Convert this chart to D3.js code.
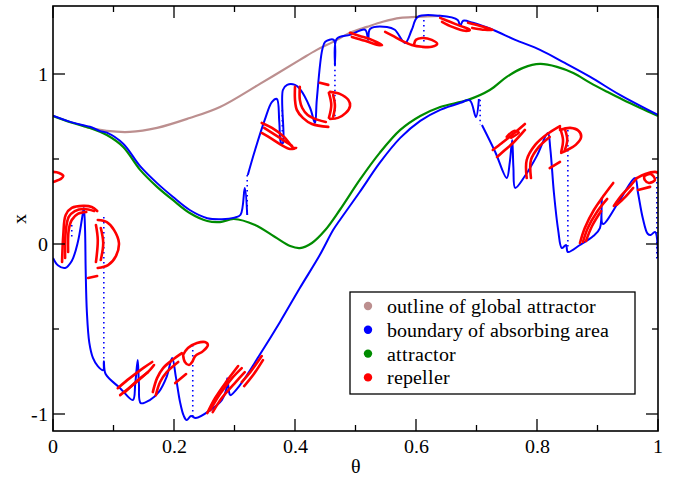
<!DOCTYPE html>
<html>
<head>
<meta charset="utf-8">
<script src="https://cdn.jsdelivr.net/npm/d3@7"></script>
<style>
  body { margin: 0; background: #fff; }
  @font-face { font-family: "SerifLocal"; src: local("Liberation Serif"), local("LiberationSerif"), local("LiberationSerif-Regular"), local("DejaVu Serif"), local("DejaVuSerif"); }
</style>
</head>
<body>
<svg id="chart"></svg>
<script>
// 画面サイズ
var w = 683;
var h = 479;
var margin = {top: 6, right: 25, bottom: 48, left: 53};
var serif = "SerifLocal, 'Liberation Serif', 'Times New Roman', 'DejaVu Serif', serif";

// tick labels
var xTicks = [0, 0.2, 0.4, 0.6, 0.8, 1];
var xTickLabels = ["0", "0.2", "0.4", "0.6", "0.8", "1"];
var yTicks = [-1, 0, 1];
var yTickLabels = ["-1", "0", "1"];

// legend
var legendNames = ["outline of global attractor", "boundary of absorbing area", "attractor", "repeller"];
var legendColors = ["#bc8f8f", "#0000ff", "#008c00", "#ff0000"];

// outline of global attractor [theta, x]
var outline = [[0.05,0.695],[0.061,0.683],[0.089,0.665],[0.127,0.659],[0.172,0.683],[0.226,0.741],[0.276,0.806],
  [0.342,0.942],[0.408,1.083],[0.436,1.142],[0.463,1.189],[0.491,1.242],[0.519,1.277],[0.545,1.307],
  [0.574,1.330],[0.602,1.336],[0.640,1.342]];

// attractor
var attractor = [[0,0.753],[0.03,0.715],[0.061,0.683],[0.089,0.641],[0.116,0.571],[0.144,0.436],[0.172,0.336],
  [0.198,0.259],[0.226,0.182],[0.255,0.135],[0.276,0.129],[0.299,0.147],[0.334,0.112],[0.367,0.041],
  [0.392,-0.012],[0.408,-0.024],[0.428,0.006],[0.45,0.082],[0.474,0.2],[0.507,0.377],[0.540,0.536],
  [0.574,0.671],[0.607,0.753],[0.640,0.806],[0.686,0.848],[0.722,0.906],[0.75,0.983],[0.777,1.036],
  [0.805,1.059],[0.833,1.042],[0.86,1.006],[0.888,0.948],[0.916,0.895],[0.942,0.848],[0.97,0.801],[1,0.753]];

// boundary of absorbing area (solid pieces)
var boundaryUpperA = [[0,0.755],[0.03,0.717],[0.05,0.698],[0.061,0.690],[0.078,0.664],[0.089,0.655],
  [0.116,0.590],[0.144,0.458],[0.172,0.358],[0.198,0.278],[0.226,0.200],[0.255,0.152],[0.279,0.146],
  [0.300,0.155],[0.310,0.172],[0.317,0.329],[0.321,0.171]];
var boundaryUpperB = [[0.322,0.406],[0.334,0.553],[0.350,0.730],[0.362,0.836],[0.370,0.853],[0.374,0.720],
  [0.377,0.594],[0.380,0.594],[0.380,0.906],[0.387,0.936],[0.400,0.936],[0.408,0.912],[0.425,0.800],
  [0.433,0.712],[0.436,0.848],[0.445,1.142],[0.450,1.189],[0.464,1.201],[0.466,1.054],[0.469,1.207],
  [0.491,1.230],[0.516,1.260],[0.521,1.201],[0.524,1.265],[0.552,1.277],[0.565,1.260],[0.582,1.183],
  [0.593,1.260],[0.603,1.336],[0.640,1.342],[0.669,1.318],[0.673,1.283],[0.678,1.313],[0.694,1.301],
  [0.727,1.260],[0.764,1.201],[0.805,1.142],[0.846,1.065],[0.888,0.983],[0.937,0.877],[1,0.759]];
var boundaryLowerA = [[0,-0.082],[0.008,-0.125],[0.020,-0.141],[0.031,-0.100],[0.041,0.010],[0.048,0.150],
  [0.051,0.212],[0.053,0.080],[0.054,-0.150],[0.056,-0.400],[0.060,-0.580],[0.066,-0.670],[0.074,-0.718],
  [0.083,-0.742],[0.084,-0.690],[0.087,-0.765],[0.111,-0.848],[0.132,-0.918],[0.136,-0.820],[0.140,-0.683],
  [0.142,-0.820],[0.145,-0.936],[0.160,-0.918],[0.175,-0.870],[0.188,-0.780],[0.197,-0.671],[0.203,-0.780],
  [0.210,-0.930],[0.216,-1.010],[0.221,-1.036],[0.228,-1.012],[0.236,-1.024],[0.260,-0.977],[0.279,-0.918],
  [0.286,-0.860],[0.288,-0.789],[0.291,-0.870],[0.293,-0.889],[0.309,-0.830],[0.342,-0.650],[0.375,-0.460],
  [0.408,-0.259],[0.441,-0.065],[0.463,0.082],[0.474,0.140],[0.507,0.306],[0.540,0.477],[0.574,0.624],
  [0.607,0.724],[0.640,0.789],[0.673,0.830],[0.689,0.845],[0.699,0.747],[0.704,0.853]];
var boundaryLowerB = [[0.709,0.700],[0.731,0.541],[0.750,0.388],[0.755,0.480],[0.759,0.612],[0.761,0.450],
  [0.764,0.330],[0.780,0.400],[0.800,0.520],[0.818,0.653],[0.822,0.560],[0.828,0.300],[0.835,0.082],
  [0.841,-0.024],[0.848,-0.006],[0.851,-0.047],[0.871,-0.006],[0.893,0.047],[0.904,0.094],[0.907,0.271],
  [0.909,0.118],[0.937,0.259],[0.962,0.388],[0.967,0.300],[0.975,0.150],[0.983,0.060],[0.988,0.053],
  [0.995,0.071],[1,-0.082]];

// boundary of absorbing area (dotted vertical pieces)
var boundaryDots = [
  [[0.084,0.159],[0.084,-0.730]],
  [[0.031,0.112],[0.031,0.024]],
  [[0.231,-0.594],[0.231,-1.024]],
  [[0.321,0.406],[0.321,0.171]],
  [[0.379,0.788],[0.379,0.594]],
  [[0.466,1.054],[0.466,0.730]],
  [[0.613,1.318],[0.613,1.171]],
  [[0.706,0.848],[0.706,0.700]],
  [[0.851,0.671],[0.851,-0.035]],
  [[0.998,0.424],[0.998,-0.106]]
];

// repeller
var repeller = [
  [[0,0.424],[0.010,0.418],[0.017,0.400],[0.013,0.383],[0.005,0.371],[0,0.365]],
  [[0.015,-0.106],[0.017,0.053],[0.021,0.171],[0.031,0.212],[0.050,0.224],[0.064,0.218],[0.073,0.194]],
  [[0.020,-0.082],[0.021,0.071],[0.026,0.159],[0.036,0.194],[0.051,0.206],[0.068,0.194]],
  [[0.025,-0.047],[0.026,0.082],[0.031,0.141],[0.041,0.177],[0.055,0.188]],
  [[0.074,0.141],[0.089,0.129],[0.101,0.082],[0.109,0.006],[0.104,-0.071],[0.091,-0.124],[0.074,-0.141]],
  [[0.071,0.112],[0.074,0.024],[0.071,-0.106]],
  [[0.079,0.094],[0.083,0.006],[0.079,-0.094]],
  [[0.058,-0.200],[0.073,-0.188]],
  [[0.107,-0.848],[0.127,-0.789],[0.149,-0.730],[0.164,-0.694]],
  [[0.111,-0.889],[0.136,-0.818],[0.160,-0.742],[0.167,-0.712]],
  [[0.119,-0.871],[0.140,-0.801],[0.157,-0.754]],
  [[0.165,-0.871],[0.172,-0.789],[0.182,-0.730],[0.197,-0.683],[0.213,-0.642]],
  [[0.170,-0.889],[0.177,-0.812],[0.188,-0.754],[0.207,-0.694]],
  [[0.215,-0.653],[0.223,-0.612],[0.238,-0.583],[0.251,-0.577],[0.256,-0.594],[0.248,-0.630],[0.235,-0.659],
   [0.230,-0.694],[0.225,-0.712],[0.218,-0.694],[0.215,-0.653]],
  [[0.202,-0.818],[0.220,-0.765]],
  [[0.255,-0.995],[0.268,-0.906],[0.286,-0.812],[0.306,-0.718]],
  [[0.260,-0.977],[0.276,-0.883],[0.296,-0.789],[0.312,-0.730]],
  [[0.264,-0.989],[0.279,-0.906],[0.302,-0.812],[0.317,-0.754]],
  [[0.312,-0.812],[0.326,-0.754],[0.345,-0.659]],
  [[0.316,-0.836],[0.332,-0.765],[0.347,-0.683]],
  [[0.345,0.712],[0.362,0.683],[0.382,0.630],[0.398,0.565],[0.402,0.565],[0.392,0.559],[0.375,0.588],
   [0.359,0.624],[0.345,0.653]],
  [[0.349,0.683],[0.375,0.624],[0.395,0.577]],
  [[0.400,0.924],[0.400,0.848],[0.403,0.789],[0.413,0.742],[0.428,0.706],[0.455,0.689]],
  [[0.408,0.924],[0.408,0.848],[0.412,0.800],[0.421,0.759],[0.438,0.730],[0.451,0.718]],
  [[0.441,0.948],[0.455,0.936]],
  [[0.458,0.895],[0.474,0.883],[0.488,0.848],[0.491,0.812],[0.484,0.771],[0.471,0.742],[0.458,0.736]],
  [[0.456,0.889],[0.460,0.818],[0.456,0.742]],
  [[0.463,0.877],[0.466,0.812],[0.463,0.748]],
  [[0.491,1.242],[0.507,1.224],[0.527,1.201],[0.544,1.171],[0.537,1.171],[0.516,1.195],[0.494,1.218]],
  [[0.549,1.248],[0.562,1.224],[0.577,1.195],[0.593,1.171],[0.610,1.160],[0.626,1.160],[0.635,1.177],
   [0.626,1.201],[0.610,1.212],[0.600,1.201],[0.597,1.177]],
  [[0.640,1.330],[0.656,1.307],[0.673,1.283],[0.689,1.260],[0.681,1.254],[0.660,1.277],[0.643,1.307]],
  [[0.686,1.301],[0.706,1.283],[0.727,1.260],[0.714,1.260],[0.693,1.271]],
  [[0.727,0.553],[0.742,0.594],[0.759,0.642],[0.780,0.706]],
  [[0.734,0.512],[0.747,0.553],[0.762,0.600],[0.780,0.671]],
  [[0.750,0.630],[0.762,0.665],[0.770,0.655],[0.757,0.625]],
  [[0.783,0.388],[0.783,0.494],[0.797,0.583],[0.817,0.647],[0.838,0.694]],
  [[0.790,0.388],[0.790,0.494],[0.803,0.571],[0.821,0.630]],
  [[0.821,0.447],[0.838,0.483]],
  [[0.838,0.671],[0.855,0.683],[0.869,0.665],[0.873,0.630],[0.864,0.583],[0.850,0.553],[0.840,0.536]],
  [[0.838,0.683],[0.843,0.612],[0.840,0.542]],
  [[0.846,0.677],[0.850,0.612],[0.846,0.553]],
  [[0.871,0.006],[0.879,0.094],[0.894,0.200],[0.911,0.288],[0.926,0.359]],
  [[0.876,0.012],[0.884,0.094],[0.899,0.188],[0.916,0.265]],
  [[0.881,0.018],[0.891,0.106],[0.906,0.194]],
  [[0.927,0.224],[0.940,0.288],[0.954,0.341],[0.965,0.388]],
  [[0.932,0.230],[0.946,0.277],[0.959,0.330]],
  [[0.965,0.388],[0.979,0.412],[0.995,0.424],[1.0,0.420]],
  [[0.977,0.400],[0.988,0.412],[0.995,0.377],[0.985,0.359],[0.978,0.377],[0.977,0.400]],
  [[0.967,0.318],[0.987,0.336]]
];

var svg = d3.select("#chart").attr("width", w).attr("height", h);

var x = d3.scaleLinear().domain([0, 1]).range([margin.left, w - margin.right]);
var y = d3.scaleLinear().domain([-1.1, 1.4]).range([h - margin.bottom, margin.top]);

svg.append("clipPath").attr("id", "clip")
   .append("rect")
   .attr("x", x(0)).attr("y", y(1.4))
   .attr("width", x(1) - x(0)).attr("height", y(-1.1) - y(1.4));

var plot = svg.append("g").attr("clip-path", "url(#clip)");

var smooth = d3.line().x(d => x(d[0])).y(d => y(d[1])).curve(d3.curveCatmullRom);
var straight = d3.line().x(d => x(d[0])).y(d => y(d[1]));

// brown outline
plot.append("path").attr("d", smooth(outline))
    .attr("fill", "none").attr("stroke", legendColors[0]).attr("stroke-width", 2.2);

// green attractor
plot.append("path").attr("d", smooth(attractor))
    .attr("fill", "none").attr("stroke", legendColors[2]).attr("stroke-width", 2.2);

// blue boundary
[boundaryUpperA, boundaryUpperB, boundaryLowerA, boundaryLowerB].forEach(seg => {
   plot.append("path").attr("d", smooth(seg))
       .attr("fill", "none").attr("stroke", legendColors[1]).attr("stroke-width", 2)
       .attr("stroke-linejoin", "round");
});
plot.selectAll(".dots").data(boundaryDots).enter()
    .append("path").attr("d", d => straight(d))
    .attr("fill", "none").attr("stroke", legendColors[1]).attr("stroke-width", 1.6)
    .attr("stroke-dasharray", "1.5,3.5");

// red repeller
plot.selectAll(".rep").data(repeller).enter()
    .append("path").attr("d", d => smooth(d))
    .attr("fill", "none").attr("stroke", legendColors[3]).attr("stroke-width", 2.6)
    .attr("stroke-linecap", "round").attr("stroke-linejoin", "round");

// frame
svg.append("rect")
   .attr("x", x(0)).attr("y", y(1.4))
   .attr("width", x(1) - x(0)).attr("height", y(-1.1) - y(1.4))
   .attr("fill", "none").attr("stroke", "#000").attr("stroke-width", 1.6);

// ticks (inside, all four sides)
var major = 12, minor = 6;
var xMinor = d3.range(1, 10, 2).map(i => i / 10);
var yMinor = [-0.5, 0.5];
var tickG = svg.append("g").attr("stroke", "#000").attr("stroke-width", 1.3);
xTicks.forEach(t => {
   tickG.append("line").attr("x1", x(t)).attr("x2", x(t)).attr("y1", y(-1.1)).attr("y2", y(-1.1) - major);
   tickG.append("line").attr("x1", x(t)).attr("x2", x(t)).attr("y1", y(1.4)).attr("y2", y(1.4) + major);
});
xMinor.forEach(t => {
   tickG.append("line").attr("x1", x(t)).attr("x2", x(t)).attr("y1", y(-1.1)).attr("y2", y(-1.1) - minor);
   tickG.append("line").attr("x1", x(t)).attr("x2", x(t)).attr("y1", y(1.4)).attr("y2", y(1.4) + minor);
});
yTicks.forEach(t => {
   tickG.append("line").attr("x1", x(0)).attr("x2", x(0) + major).attr("y1", y(t)).attr("y2", y(t));
   tickG.append("line").attr("x1", x(1)).attr("x2", x(1) - major).attr("y1", y(t)).attr("y2", y(t));
});
yMinor.forEach(t => {
   tickG.append("line").attr("x1", x(0)).attr("x2", x(0) + minor).attr("y1", y(t)).attr("y2", y(t));
   tickG.append("line").attr("x1", x(1)).attr("x2", x(1) - minor).attr("y1", y(t)).attr("y2", y(t));
});

// tick labels
xTicks.forEach((t, i) => {
   svg.append("text").attr("x", x(t)).attr("y", y(-1.1) + 22)
      .attr("font-family", serif).attr("font-size", 20)
      .attr("text-anchor", "middle").text(xTickLabels[i]);
});
yTicks.forEach((t, i) => {
   svg.append("text").attr("x", x(0) - 5).attr("y", y(t) + 7)
      .attr("font-family", serif).attr("font-size", 20)
      .attr("text-anchor", "end").text(yTickLabels[i]);
});

// axis titles
svg.append("text").attr("x", (x(0) + x(1)) / 2).attr("y", 473)
   .attr("font-family", serif).attr("font-size", 20)
   .attr("text-anchor", "middle").text("θ");
svg.append("text").attr("transform", "translate(26," + y(0.15) + ") rotate(-90)")
   .attr("font-family", serif).attr("font-size", 20)
   .attr("text-anchor", "middle").text("x");

// legend
var lg = svg.append("g");
lg.append("rect").attr("x", 350).attr("y", 292).attr("width", 285).attr("height", 102)
  .attr("fill", "#fff").attr("stroke", "#000").attr("stroke-width", 1.3);
legendNames.forEach((name, i) => {
   var cy = 306 + i * 23.8;
   lg.append("circle").attr("cx", 368).attr("cy", cy).attr("r", 4.2).attr("fill", legendColors[i]);
   lg.append("text").attr("x", 387).attr("y", cy + 7)
     .attr("font-family", serif).attr("font-size", 20).text(name);
});
</script>
</body>
</html>
